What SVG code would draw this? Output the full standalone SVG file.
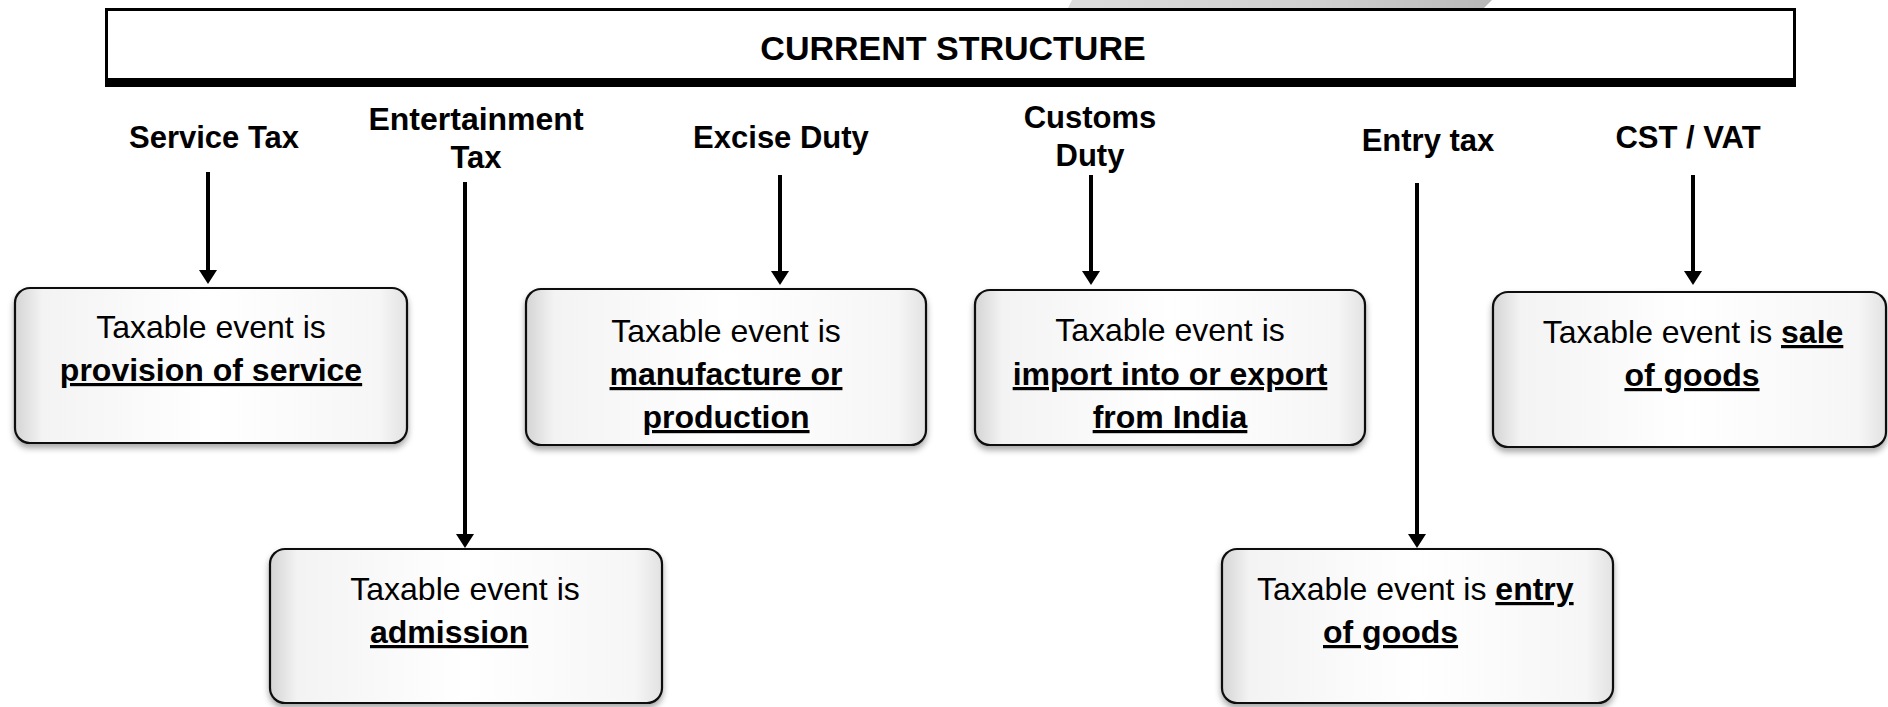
<svg xmlns="http://www.w3.org/2000/svg" width="1888" height="707" viewBox="0 0 1888 707">
<style>
  .lbl { font-family: "Liberation Sans", Arial, sans-serif; font-weight: bold; font-size: 31px; fill: #000; text-anchor: middle; }
  .title { font-family: "Liberation Sans", Arial, sans-serif; font-weight: bold; font-size: 34px; fill: #000; text-anchor: middle; }
  .txt { font-family: "Liberation Sans", Arial, sans-serif; font-size: 32px; fill: #000; }
  .mid { text-anchor: middle; }
  .b { font-weight: bold; text-decoration: underline; }
  .box { fill: url(#bevel); stroke: #111; stroke-width: 2.2; filter: url(#shadow); }
  .conn line { stroke: #000; stroke-width: 4; marker-end: url(#arrow); }
</style>
<defs>
  <linearGradient id="bevel" x1="0" y1="0" x2="1" y2="0">
    <stop offset="0" stop-color="#d4d4d4"/>
    <stop offset="0.07" stop-color="#f3f3f3"/>
    <stop offset="0.5" stop-color="#ffffff"/>
    <stop offset="0.93" stop-color="#f6f6f6"/>
    <stop offset="1" stop-color="#e2e2e2"/>
  </linearGradient>
  <linearGradient id="wm" x1="0" y1="0" x2="1" y2="0">
    <stop offset="0" stop-color="#dcdcdc"/>
    <stop offset="0.6" stop-color="#d0d0d0"/>
    <stop offset="1" stop-color="#b8b8b8"/>
  </linearGradient>
  <filter id="shadow" x="-5%" y="-5%" width="110%" height="120%">
    <feDropShadow dx="0" dy="4" stdDeviation="3" flood-color="#000" flood-opacity="0.35"/>
  </filter>
  <marker id="arrow" viewBox="0 0 14 18" refX="2" refY="9" markerWidth="14" markerHeight="18" markerUnits="userSpaceOnUse" orient="auto">
    <path d="M0,0 L14,9 L0,18 z" fill="#000"/>
  </marker>
</defs>
<rect width="1888" height="707" fill="#fff"/>
<path d="M1072,0 L1492,0 L1484,8 L1068,8 z" fill="url(#wm)"/>

<g id="title">
  <rect x="106.5" y="9.5" width="1688" height="74" fill="#fff" stroke="#000" stroke-width="3"/>
  <rect x="105" y="78" width="1691" height="9" fill="#000"/>
  <text class="title" x="953" y="60">CURRENT STRUCTURE</text>
</g>

<g id="label-service"><text class="lbl" x="214" y="148">Service Tax</text></g>
<g id="label-entertainment"><text class="lbl" x="476" y="130" style="font-size:32px">Entertainment</text><text class="lbl" x="476" y="168">Tax</text></g>
<g id="label-excise"><text class="lbl" x="781" y="148">Excise Duty</text></g>
<g id="label-customs"><text class="lbl" x="1090" y="128">Customs</text><text class="lbl" x="1090" y="166">Duty</text></g>
<g id="label-entry"><text class="lbl" x="1428" y="151">Entry tax</text></g>
<g id="label-cstvat"><text class="lbl" x="1688" y="148">CST / VAT</text></g>

<g id="connectors" class="conn">
  <line x1="208" y1="172" x2="208" y2="272"/>
  <line x1="465" y1="182" x2="465" y2="536"/>
  <line x1="780" y1="175" x2="780" y2="273"/>
  <line x1="1091" y1="175" x2="1091" y2="273"/>
  <line x1="1417" y1="183" x2="1417" y2="536"/>
  <line x1="1693" y1="175" x2="1693" y2="273"/>
</g>

<g id="box-service">
  <rect class="box" x="15" y="288" width="392" height="155" rx="15"/>
  <text class="txt mid" x="211" y="338">Taxable event is</text>
  <text class="txt mid b" x="211" y="381">provision of service</text>
</g>
<g id="box-excise">
  <rect class="box" x="526" y="289" width="400" height="156" rx="15"/>
  <text class="txt mid" x="726" y="342">Taxable event is</text>
  <text class="txt mid b" x="726" y="385">manufacture or</text>
  <text class="txt mid b" x="726" y="428">production</text>
</g>
<g id="box-customs">
  <rect class="box" x="975" y="290" width="390" height="155" rx="15"/>
  <text class="txt mid" x="1170" y="341">Taxable event is</text>
  <text class="txt mid b" x="1170" y="385">import into or export</text>
  <text class="txt mid b" x="1170" y="428">from India</text>
</g>
<g id="box-cstvat">
  <rect class="box" x="1493" y="292" width="393" height="155" rx="15"/>
  <text class="txt mid" x="1693" y="343">Taxable event is <tspan class="b">sale</tspan></text>
  <text class="txt mid b" x="1692" y="386">of goods</text>
</g>
<g id="box-admission">
  <rect class="box" x="270" y="549" width="392" height="154" rx="15"/>
  <text class="txt mid" x="465" y="600">Taxable event is</text>
  <text class="txt b" x="370" y="643">admission</text>
</g>
<g id="box-entry">
  <rect class="box" x="1222" y="549" width="391" height="154" rx="15"/>
  <text class="txt" x="1257" y="600">Taxable event is <tspan class="b">entry</tspan></text>
  <text class="txt b" x="1323" y="643">of goods</text>
</g>
</svg>
